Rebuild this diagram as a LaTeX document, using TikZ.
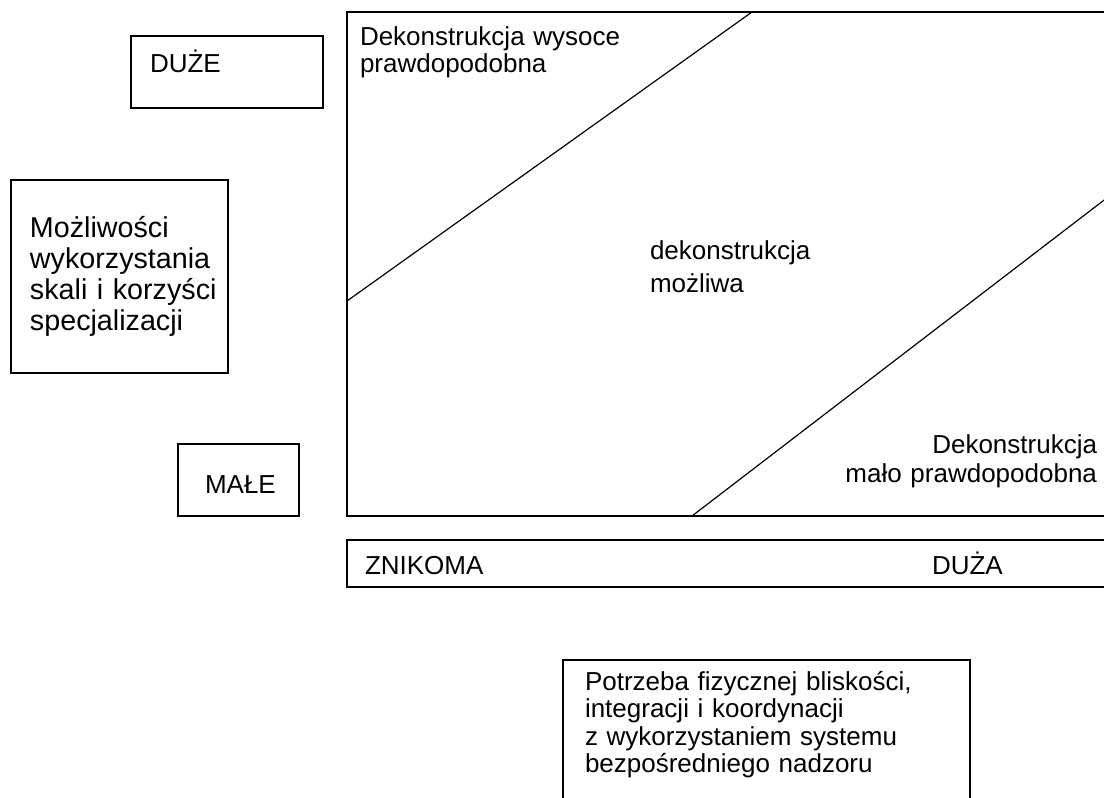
\documentclass[tikz,border=0pt]{standalone}
\usepackage{fontspec}
\setmainfont{Liberation Sans}
\usetikzlibrary{positioning}

\begin{document}
\begin{tikzpicture}[x=1pt, y=-1pt, every node/.style={inner sep=0pt, outer sep=0pt}]
  \tikzset{
    box/.style={draw, rectangle, line width=1.4pt, anchor=north west},
    txt/.style={font=\fontsize{26}{27}\selectfont, anchor=base west},
    para/.style={txt, align=left, text width=#1},
    border/.style={line width=1.2pt}
  }
  \useasboundingbox (0,0) rectangle (1104,798);
  \clip (0,0) rectangle (1104,798);

  % boxes
  \node[box, minimum width=770pt, minimum height=504pt] (area) at (347,12) {};
  \node[box, minimum width=770pt, minimum height=47pt] (axis) at (347,540) {};
  \node[box, minimum width=407pt, minimum height=160pt] (need) at (563,660) {};
  \node[box, minimum width=217pt, minimum height=193pt] (chance) at (11,180) {};
  \node[box, minimum width=192pt, minimum height=72pt] (big) at (131,36) {};
  \node[box, minimum width=121pt, minimum height=72pt] (small) at (178,444) {};

  % borders between the fields
  \coordinate (hiA) at (347,301);
  \coordinate (hiB) at (752,12);
  \coordinate (loA) at (692,516);
  \coordinate (loB) at (1112,194);
  \draw[border] (hiA) -- (hiB);
  \draw[border] (loA) -- (loB);

  % texts
  \node[para=300pt] (high) at (360,45) {Dekonstrukcja wysoce\\prawdopodobna};
  \node[para=200pt, font=\fontsize{26}{33}\selectfont] (mid) at (650,259) {dekonstrukcja\\możliwa};
  \node[txt, align=right, text width=260pt, anchor=base east, font=\fontsize{26}{29}\selectfont] (low) at (1097,453) {Dekonstrukcja\\mało prawdopodobna};
  \node[para=210pt, font=\fontsize{28.7}{31}\selectfont] (chanceT) at (30,237) {Możliwości\\wykorzystania\\skali i korzyści\\specjalizacji};
  \node[txt] (bigT) at (150,72) {DUŻE};
  \node[txt] (smallT) at (205,493) {MAŁE};
  \node[txt] (noneT) at (365,574) {ZNIKOMA};
  \node[txt] (muchT) at (932,574) {DUŻA};
  \node[para=380pt, font=\fontsize{26}{27.5}\selectfont] (needT) at (585,690) {Potrzeba fizycznej bliskości,\\integracji i koordynacji\\z wykorzystaniem systemu\\bezpośredniego nadzoru};
\end{tikzpicture}
\end{document}
